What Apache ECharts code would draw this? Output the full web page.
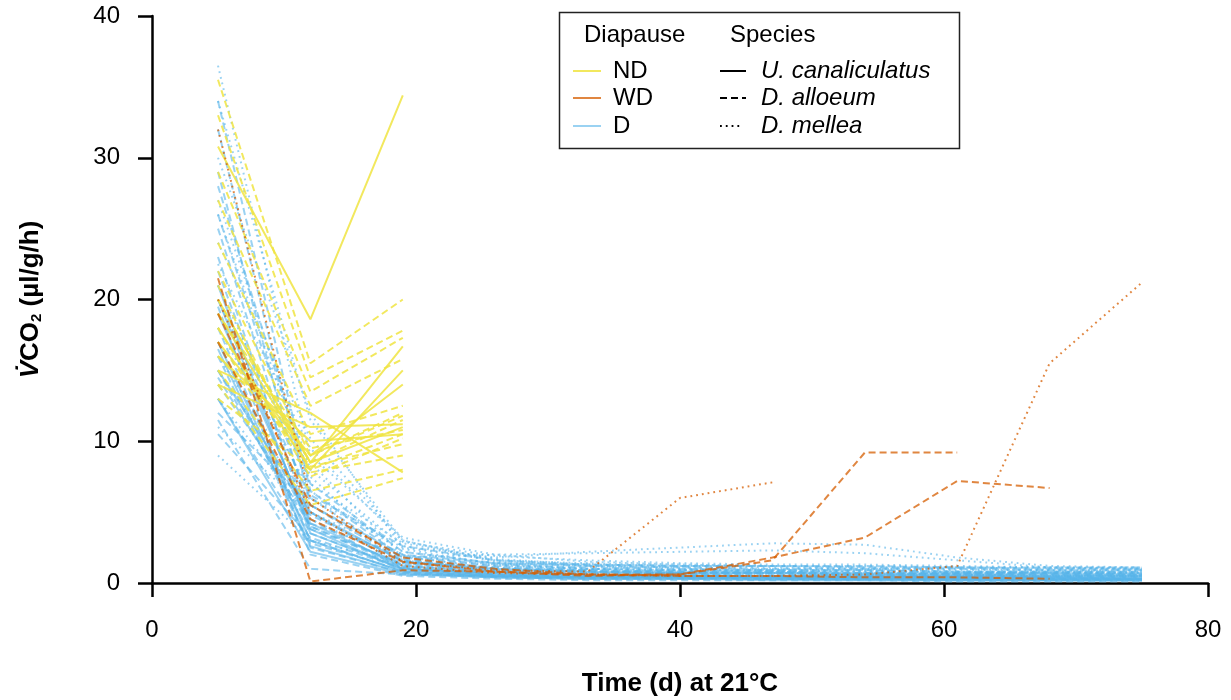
<!DOCTYPE html>
<html>
<head>
<meta charset="utf-8">
<script src="https://cdn.jsdelivr.net/npm/echarts@6/dist/echarts.min.js"></script>
<style>
  html, body { margin: 0; padding: 0; background: #fff; }
  #chart { width: 1231px; height: 700px; }
</style>
</head>
<body>
<div id="chart"></div>
<script>
// sampling days (weekly at 21°C)
const days = [5, 12, 19, 26, 33, 40, 47, 54, 61, 68, 75];
const xTicks = [0, 20, 40, 60, 80];
const yTicks = [0, 10, 20, 30, 40];

// ND (no diapause) - measured only up to day 19
const ndCanaliculatus = [
  [30.8, 18.6, 34.4],
  [20.0, 8.5, 16.7],
  [18.0, 8.0, 15.0],
  [17.0, 9.0, 14.0],
  [15.0, 12.0, 7.8],
  [19.0, 8.5, 11.0],
  [16.0, 10.0, 10.5],
  [14.0, 11.0, 11.2]
];
const ndAlloeum = [
  [35.5, 15.5, 20.0],
  [33.0, 14.5, 17.8],
  [29.0, 13.5, 17.3],
  [27.0, 12.5, 15.8],
  [22.0, 9.0, 12.0],
  [20.0, 8.5, 11.5],
  [19.0, 9.5, 10.8],
  [18.0, 7.5, 10.2],
  [17.0, 8.2, 9.8],
  [16.0, 9.0, 11.8],
  [21.0, 7.8, 9.0],
  [15.0, 6.5, 8.0],
  [14.0, 5.5, 7.4],
  [24.0, 10.5, 12.5],
  [13.0, 8.0, 10.5]
];

// WD (weak diapause)
const wdAlloeum = [
  [21.5, 0.1, 0.9, 0.8, 0.6, 0.5, 0.5, 0.4, 0.4, 0.3],
  [19.0, 5.5, 1.8, 1.0, 0.6, 0.6, 1.6, 9.2, 9.2],
  [17.0, 4.5, 1.5, 0.8, 0.5, 0.6, 1.8, 3.2, 7.2, 6.7]
];
const wdMellea = [
  [32.0, 6.0, 1.5, 0.9, 0.8, 6.0, 7.1],
  [20.0, 5.0, 1.2, 0.7, 0.6, 0.5, 0.5, 0.6, 1.2, 15.5, 21.2]
];

// D (diapause)
const dCanaliculatus = [
  [21.0, 3.5, 1.0, 0.6, 0.5, 0.5, 0.4, 0.4, 0.4, 0.4, 0.3],
  [19.0, 4.2, 1.2, 0.8, 0.6, 0.6, 0.5, 0.5, 0.5, 0.5, 0.5],
  [17.0, 3.0, 0.8, 0.5, 0.4, 0.4, 0.4, 0.3, 0.3, 0.3, 0.3],
  [15.0, 5.0, 1.5, 1.0, 0.8, 0.7, 0.7, 0.6, 0.6, 0.6, 0.6],
  [13.0, 2.2, 0.6, 0.4, 0.3, 0.3, 0.3, 0.3, 0.2, 0.2, 0.2],
  [20.0, 3.8, 0.9, 0.5, 0.4, 0.4, 0.4, 0.4, 0.3, 0.3, 0.3],
  [16.5, 2.6, 0.7, 0.4, 0.3, 0.3, 0.2, 0.2, 0.2, 0.2, 0.2]
];
const dAlloeum = [
  [34.0, 6.5, 1.8, 1.2, 1.0, 0.9, 0.9, 0.9, 0.8, 0.8, 0.8],
  [32.0, 5.5, 1.5, 1.0, 0.9, 0.8, 0.8, 0.7, 0.7, 0.7, 0.7],
  [28.0, 7.0, 2.2, 1.4, 1.3, 1.2, 1.2, 1.2, 1.1, 1.1, 1.1],
  [25.0, 5.0, 1.2, 0.8, 0.6, 0.6, 0.5, 0.5, 0.5, 0.4, 0.4],
  [22.0, 4.5, 1.0, 0.7, 0.5, 0.5, 0.5, 0.4, 0.4, 0.4, 0.4],
  [20.0, 6.0, 1.7, 1.0, 0.8, 0.7, 0.7, 0.6, 0.6, 0.6, 0.6],
  [18.0, 3.0, 0.8, 0.5, 0.4, 0.4, 0.3, 0.3, 0.3, 0.3, 0.3],
  [17.0, 4.0, 1.3, 0.9, 0.7, 0.7, 0.6, 0.6, 0.6, 0.5, 0.5],
  [16.0, 2.5, 0.7, 0.4, 0.3, 0.3, 0.3, 0.2, 0.2, 0.2, 0.2],
  [15.0, 3.5, 1.1, 0.7, 0.6, 0.5, 0.5, 0.5, 0.4, 0.4, 0.4],
  [14.0, 4.8, 1.6, 1.1, 0.9, 0.8, 0.8, 0.7, 0.7, 0.7, 0.6],
  [13.0, 2.8, 0.9, 0.6, 0.5, 0.4, 0.4, 0.4, 0.4, 0.3, 0.3],
  [12.0, 5.5, 2.0, 1.4, 1.2, 1.1, 1.0, 1.0, 1.0, 0.9, 0.9],
  [10.5, 3.2, 1.0, 0.6, 0.5, 0.5, 0.4, 0.4, 0.4, 0.4, 0.3],
  [23.0, 3.8, 1.4, 0.9, 0.8, 0.7, 0.7, 0.6, 0.6, 0.6, 0.5],
  [29.0, 4.2, 1.9, 1.3, 1.1, 1.0, 0.9, 0.9, 0.8, 0.8, 0.8],
  [19.5, 2.0, 0.5, 0.3, 0.2, 0.2, 0.2, 0.2, 0.1, 0.1, 0.1],
  [14.5, 4.0, 1.1, 0.6, 0.4, 0.4, 0.3, 0.3, 0.3, 0.2, 0.2],
  [11.5, 1.0, 0.6, 0.5, 0.4, 0.4, 0.3, 0.3, 0.3, 0.3, 0.2],
  [26.0, 6.2, 2.6, 1.6, 1.3, 1.2, 1.2, 1.1, 1.1, 1.0, 1.0]
];
const dMellea = [
  [36.5, 9.0, 3.2, 2.0, 1.5, 1.3, 1.2, 1.1, 1.1, 1.0, 1.0],
  [34.0, 11.5, 3.0, 1.6, 1.2, 1.1, 1.0, 1.0, 0.9, 0.9, 0.9],
  [27.0, 8.0, 2.6, 1.8, 2.2, 2.5, 2.8, 2.7, 1.8, 1.2, 1.1],
  [9.0, 3.0, 1.4, 1.0, 0.8, 0.8, 0.7, 0.7, 0.6, 0.6, 0.6],
  [24.0, 10.2, 3.0, 1.5, 1.2, 1.0, 0.9, 0.9, 0.8, 0.8, 0.8],
  [18.0, 6.5, 2.2, 1.4, 1.0, 0.9, 0.8, 0.8, 0.8, 0.7, 0.7],
  [15.0, 5.5, 1.8, 2.0, 2.1, 2.2, 2.3, 2.1, 1.6, 1.1, 1.0],
  [13.0, 4.5, 1.5, 1.1, 0.9, 0.8, 0.8, 0.7, 0.7, 0.7, 0.6],
  [21.0, 7.0, 2.8, 1.7, 1.3, 1.2, 1.1, 1.0, 1.0, 0.9, 0.9],
  [11.0, 5.0, 2.0, 1.2, 1.0, 0.9, 0.9, 0.8, 0.8, 0.8, 0.7],
  [30.0, 12.0, 2.4, 1.3, 1.0, 0.9, 0.8, 0.8, 0.7, 0.7, 0.7],
  [16.0, 6.0, 2.5, 1.6, 1.4, 1.3, 1.2, 1.2, 1.1, 1.1, 1.0],
  [19.0, 8.5, 1.9, 1.0, 0.8, 0.7, 0.7, 0.6, 0.6, 0.5, 0.5],
  [26.0, 7.5, 1.6, 0.9, 0.7, 0.6, 0.6, 0.6, 0.5, 0.5, 0.5],
  [22.5, 9.5, 2.9, 1.9, 1.6, 1.4, 1.3, 1.3, 1.2, 1.1, 1.1]
];

const YELLOW = 'rgba(240,228,66,0.85)';
const ORANGE = 'rgba(213,94,0,0.75)';
const BLUE = 'rgba(86,180,233,0.6)';
const SOLID = 'solid';
const DASHED = [7, 4];
const DOTTED = [1.8, 4];
const FONT = 'Liberation Sans, Arial, sans-serif';

function makeSeries(rows, color, dash, z) {
  return rows.map(r => ({
    type: 'line',
    data: r.map((v, i) => [days[i], v]),
    showSymbol: false,
    silent: true,
    z: z,
    lineStyle: { color: color, width: 2, type: dash }
  }))
}

const series = [].concat(
  makeSeries(dMellea, BLUE, DOTTED, 2),
  makeSeries(dAlloeum, BLUE, DASHED, 2),
  makeSeries(dCanaliculatus, BLUE, SOLID, 2),
  makeSeries(ndAlloeum, YELLOW, DASHED, 3),
  makeSeries(ndCanaliculatus, YELLOW, SOLID, 3),
  makeSeries(wdAlloeum, ORANGE, DASHED, 4),
  makeSeries(wdMellea, ORANGE, DOTTED, 4)
)

// legend drawn by hand (two columns like the original)
const legendRows = ['ND', 'WD', 'D'];
const legendColors = [YELLOW, ORANGE, BLUE];
const speciesNames = ['U. canaliculatus', 'D. alloeum', 'D. mellea'];
const speciesDash = [SOLID, DASHED, DOTTED];
const rowY = [71, 98, 126];

const legendEls = [
  { type: 'rect', shape: { x: 559.5, y: 12.5, width: 400, height: 136 },
    style: { fill: '#fff', stroke: '#222', lineWidth: 1.5 } },
  { type: 'text', x: 584, y: 35, style: { text: 'Diapause', font: '24px ' + FONT, fill: '#000', verticalAlign: 'middle' } },
  { type: 'text', x: 730, y: 35, style: { text: 'Species', font: '24px ' + FONT, fill: '#000', verticalAlign: 'middle' } }
];
legendRows.forEach((name, i) => {
  legendEls.push({ type: 'line', shape: { x1: 573, y1: rowY[i], x2: 601, y2: rowY[i] },
    style: { stroke: legendColors[i], lineWidth: 2 } });
  legendEls.push({ type: 'text', x: 613, y: rowY[i], style: { text: name, font: '24px ' + FONT, fill: '#000', verticalAlign: 'middle' } });
  legendEls.push({ type: 'line', shape: { x1: 720, y1: rowY[i], x2: i === 2 ? 740 : 746, y2: rowY[i] },
    style: { stroke: '#000', lineWidth: 2, lineDash: speciesDash[i] === SOLID ? null : speciesDash[i] } });
  legendEls.push({ type: 'text', x: 761, y: rowY[i], style: { text: speciesNames[i], font: 'italic 24px ' + FONT, fill: '#000', verticalAlign: 'middle' } });
});

const chart = echarts.init(document.getElementById('chart'), null, { renderer: 'canvas' })
chart.setOption({
  animation: false,
  backgroundColor: '#fff',
  grid: { left: 152, right: 23, top: 16, bottom: 117, containLabel: false, outerBoundsMode: 'none' },
  xAxis: {
    type: 'value',
    min: xTicks[0],
    max: xTicks[xTicks.length - 1],
    interval: 20,
    name: 'Time (d) at 21°C',
    nameLocation: 'middle',
    nameGap: 88,
    nameTextStyle: { fontFamily: FONT, fontSize: 26, fontWeight: 'bold', color: '#000' },
    axisLine: { onZero: false, lineStyle: { color: '#000', width: 2.5 } },
    axisTick: { length: 14, lineStyle: { color: '#000', width: 2.5 } },
    axisLabel: { margin: 35, fontFamily: FONT, fontSize: 24, color: '#000' },
    splitLine: { show: false }
  },
  yAxis: {
    type: 'value',
    min: yTicks[0],
    max: yTicks[yTicks.length - 1],
    interval: 10,
    name: '{v|V\u0307}{b|CO}{s|2}{b| (µl/g/h)}',
    nameLocation: 'middle',
    nameGap: 108,
    nameRotate: 90,
    nameTextStyle: {
      color: '#000',
      rich: {
        v: { fontFamily: FONT, fontSize: 26, fontWeight: 'bold', fontStyle: 'italic', color: '#000' },
        b: { fontFamily: FONT, fontSize: 26, fontWeight: 'bold', color: '#000' },
        s: { fontFamily: FONT, fontSize: 15, fontWeight: 'bold', color: '#000', verticalAlign: 'bottom', padding: [12, 0, 0, 0] }
      }
    },
    axisLine: { show: true, onZero: false, lineStyle: { color: '#000', width: 2.5 } },
    axisTick: { show: true, length: 14, lineStyle: { color: '#000', width: 2.5 } },
    axisLabel: { margin: 32, fontFamily: FONT, fontSize: 24, color: '#000' },
    splitLine: { show: false }
  },
  graphic: [{ type: 'group', z: 100, children: legendEls }],
  series: series
})
</script>
</body>
</html>
